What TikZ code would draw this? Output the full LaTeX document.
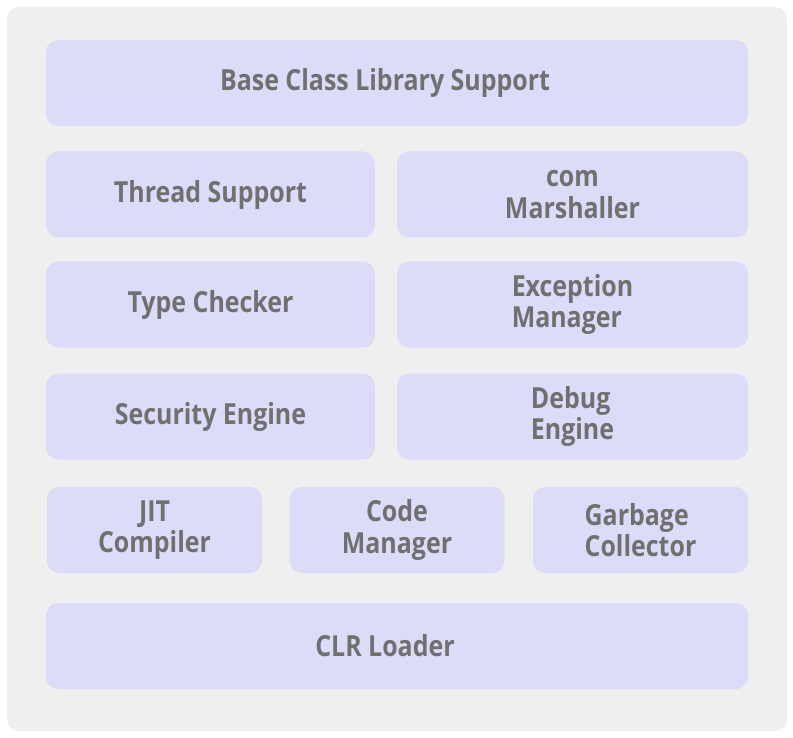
\documentclass[tikz,border=0pt]{standalone}
\usepackage{fontspec}
\newfontfamily\boxfont{Open Sans}[FakeStretch=0.86]
\usetikzlibrary{positioning}
\definecolor{panelgray}{RGB}{239,239,239}
\definecolor{blockfill}{RGB}{220,220,248}
\definecolor{labelgray}{RGB}{112,112,112}

\begin{document}
\begin{tikzpicture}[
    x=1pt, y=-1pt,
    block/.style={rectangle, rounded corners=12pt, fill=blockfill, inner sep=0pt,
        minimum height=86pt, text=labelgray, align=center,
        font=\boxfont\bfseries\fontsize{29}{31.5}\selectfont},
    wide/.style={block, minimum width=702pt},
    half/.style={block, minimum width=329pt},
    halfr/.style={block, minimum width=351pt},
    third/.style={block, minimum width=215pt}
]

% Page and panel
\useasboundingbox (0,0) rectangle (793,738);
\fill[white] (0,0) rectangle (793,738);
\fill[panelgray, rounded corners=12pt] (7,7) rectangle (787,731);

% Row 1
\node[wide] (bcl) at (397, 83) {Base Class Library Support\hspace{24pt}};

% Row 2
\node[half] (thread) at (210.5, 194.5) {Thread Support};
\node[halfr] (com) at (572.5, 194.5) {com\\Marshaller};

% Row 3
\node[half] (typechk) at (210.5, 304.5) {Type Checker};
\node[halfr, align=left] (exc) at (572.5, 304.5) {Exception\\Manager};

% Row 4
\node[half] (security) at (210.5, 416.5) {Security Engine};
\node[halfr, align=left] (debug) at (572.5, 416.5) {Debug\\Engine};

% Row 5
\node[third] (jit) at (154.5, 530) {JIT\\Compiler};
\node[third] (codemgr) at (397, 530) {Code\\Manager};
\node[third, align=left] (gc) at (640.5, 530) {Garbage\\Collector};

% Row 6
\node[wide] (loader) at (397, 646) {CLR Loader\hspace{24pt}};

\end{tikzpicture}
\end{document}
